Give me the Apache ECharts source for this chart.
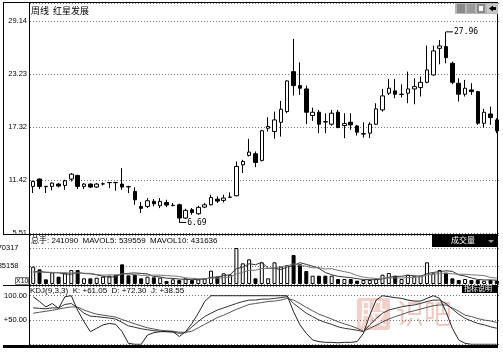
<!DOCTYPE html>
<html>
<head>
<meta charset="UTF-8">
<title>红星发展 周线</title>
<script src="https://cdn.jsdelivr.net/npm/echarts@6/dist/echarts.min.js"></script>
<style>
    html, body { margin: 0; padding: 0; background: #fff; }
    #chart { width: 503px; height: 353px; }
</style>
</head>
<body>
<div id="chart"></div>
<script>
    // 周线行情（按时间顺序）
    const opens = [10.71, 11.53, 10.72, 10.71, 10.97, 10.82, 11.53, 11.94, 10.71, 10.97,
        10.64, 10.98, 11.13, 11.16, 10.97, 10.68, 10.15, 8.48, 8.48, 9.04,
        8.55, 8.92, 8.58, 8.66, 7.18, 8.11, 7.66, 8.40, 8.66, 9.29,
        9.15, 9.50, 9.67, 13.12, 14.17, 14.35, 13.61, 17.20, 16.83, 17.87,
        19.06, 23.52, 21.96, 21.59, 18.62, 18.99, 17.93, 17.65, 18.99, 17.50,
        17.87, 17.46, 16.55, 16.65, 17.65, 19.25, 21.11, 21.37, 20.98, 21.11,
        21.59, 21.74, 22.33, 23.15, 26.12, 26.31, 24.45, 22.22, 21.00, 21.48,
        21.29, 17.76, 18.80, 18.13];
    const closes = [11.27, 10.71, 10.68, 11.08, 10.75, 11.34, 12.08, 10.71, 10.97, 10.64,
        10.97, 11.00, 11.15, 11.13, 10.64, 10.66, 9.22, 8.26, 9.11, 8.77,
        9.04, 8.63, 8.60, 7.18, 8.03, 7.81, 8.37, 8.66, 9.48, 9.07,
        9.41, 9.52, 12.94, 13.50, 14.54, 13.38, 16.92, 17.40, 18.13, 19.32,
        22.48, 21.96, 21.67, 18.99, 18.99, 17.65, 17.90, 18.88, 17.28, 17.72,
        17.58, 16.76, 16.60, 17.65, 19.36, 20.81, 21.67, 21.00, 21.00, 21.59,
        21.85, 22.33, 23.71, 25.83, 26.39, 25.08, 22.33, 21.00, 21.67, 21.29,
        17.76, 18.99, 18.39, 16.91];
    const lows = [9.97, 10.41, 9.97, 10.26, 10.60, 10.34, 11.27, 10.41, 10.41, 10.52,
        10.56, 10.82, 10.52, 10.23, 10.34, 9.97, 8.66, 7.74, 8.29, 8.48,
        8.29, 8.40, 8.48, 6.69, 7.07, 7.55, 7.55, 8.29, 8.59, 8.85,
        8.92, 9.41, 9.59, 12.20, 14.05, 12.86, 13.50, 16.84, 16.02, 16.27,
        18.88, 20.85, 20.92, 17.65, 18.02, 16.65, 16.65, 17.50, 17.20, 16.09,
        17.02, 16.39, 16.16, 16.09, 17.58, 19.06, 20.92, 20.55, 20.63, 19.99,
        19.88, 20.74, 22.22, 23.08, 24.34, 24.45, 22.11, 20.18, 20.74, 20.92,
        17.58, 17.28, 17.58, 16.65];
    const highs = [11.35, 11.60, 10.76, 11.16, 11.08, 11.45, 12.20, 12.01, 11.08, 11.05,
        11.08, 11.16, 11.17, 11.18, 12.75, 10.79, 10.60, 8.96, 9.41, 9.30,
        9.41, 9.22, 8.85, 8.78, 8.22, 8.29, 8.55, 8.85, 9.78, 9.59,
        9.78, 10.04, 13.50, 13.68, 16.02, 14.61, 17.03, 18.44, 19.06, 20.25,
        22.56, 27.17, 24.56, 21.96, 19.50, 19.25, 18.87, 19.25, 19.25, 18.88,
        18.88, 17.58, 17.87, 17.87, 19.99, 21.59, 22.71, 22.71, 22.11, 23.52,
        22.78, 22.97, 26.42, 26.42, 27.05, 27.96, 24.64, 22.78, 22.60, 22.22,
        21.37, 19.36, 19.62, 18.32];

    // 成交量（X10）及均量线
    const volumes = [82000, 69400, 22100, 55200, 34700, 53600, 66200, 66200, 26800, 26800,
        29900, 34700, 39400, 44200, 93000, 41000, 44200, 26800, 34700, 31500,
        29900, 14200, 22100, 18900, 26800, 18900, 22100, 26800, 63100, 34700,
        50500, 44200, 170317, 97800, 116700, 26800, 102500, 26800, 102500, 82000,
        89900, 137200, 93000, 61500, 39400, 39400, 39400, 39400, 23700, 23700,
        23700, 15800, 18900, 18900, 23700, 44200, 52000, 39400, 23700, 44200,
        36300, 39400, 102500, 50500, 66200, 53600, 26800, 18900, 23700, 18900,
        18900, 15800, 18900, 15800];
    const mavol5 = [57000, 60000, 55000, 54000, 52680, 47000, 46360, 55180, 49500, 47920,
        43180, 36880, 31520, 35000, 48240, 50460, 52360, 49840, 47940, 35640,
        33420, 27420, 26480, 23320, 22380, 20180, 21760, 22700, 31540, 33120,
        39440, 43860, 72563, 79503, 95903, 91163, 102823, 74120, 75060, 68120,
        80740, 87680, 100920, 92720, 84200, 74100, 54540, 43820, 36260, 33120,
        29980, 25260, 21160, 20200, 20200, 24300, 31540, 35640, 36600, 40700,
        39120, 36600, 49220, 54580, 58980, 62440, 59920, 43200, 37840, 28380,
        21440, 19240, 19240, 17660];
    const mavol10 = [56000, 56500, 56000, 55000, 54000, 53000, 52500, 52000, 51000, 50300,
        45090, 41620, 43350, 42250, 48080, 46820, 44620, 40680, 41470, 41940,
        41940, 39890, 38160, 35630, 29010, 26800, 24590, 24590, 27430, 27750,
        29810, 32810, 47632, 55522, 64512, 65302, 73342, 73342, 77282, 82012,
        85952, 95252, 87520, 83890, 76160, 77420, 71110, 72370, 64490, 58660,
        52040, 39900, 32490, 28230, 26660, 27140, 28400, 28400, 28400, 30450,
        31710, 34070, 42430, 45590, 49840, 50780, 48260, 46210, 46210, 43680,
        41940, 39580, 31220, 27750];

    // KDJ(9,3,3)
    const kLine = [75, 74, 73, 75, 75, 82, 84, 75, 64, 58,
        57, 55.5, 54, 52, 45, 38, 35, 32, 30, 28,
        27, 26, 25, 22.6, 24, 36, 47, 57, 64, 70.5,
        75, 79.5, 84, 88, 91, 91, 93, 93, 94.5, 96,
        98, 84, 74, 64, 57, 50, 45, 41, 36, 33,
        31, 29, 26, 40, 53, 64, 70.5, 74, 77, 79.5,
        81, 84, 88, 91, 91, 84, 72.6, 62, 53.4, 48,
        43, 40, 36, 33];
    const dLine = [64, 66, 68, 70, 72.6, 75, 77, 76.7, 70.5, 66,
        62, 60, 58, 56, 51, 46.6, 42, 38, 34, 31.5,
        29, 28, 27, 25, 24.6, 27, 34, 41, 48, 55,
        60, 66, 72, 77, 82, 84, 86, 88, 89, 91,
        94.5, 91, 84, 76, 69, 62, 57, 52, 46.6, 42,
        38, 33, 27, 33, 39, 46, 52, 57, 61, 66,
        69, 72.6, 76, 79.5, 81, 81, 75, 68, 60, 57,
        53, 50, 48, 45];
    const jLine = [98, 88, 77, 84, 74, 98, 100, 70, 46.6, 26,
        33, 40, 43, 41, 26, 2, 0, 0, 19, 24,
        26, 26, 26, 16, 26, 43, 64, 88, 100, 100,
        100, 100, 100, 100, 100, 100, 100, 100, 100, 100,
        100, 67, 40, 22.6, 9, 5.5, 4, 4, 3, 4,
        4, 5.5, 22.6, 60, 91, 100, 98, 96, 94.5, 91,
        89, 89, 94.5, 100, 94.5, 67, 33, 9, 2, 0,
        0, 0, 0, 0];

    const weeks = opens.map((_, i) => 'W' + (i + 1));

    // 刻度文字
    const priceTicks = ['5.51', '11.42', '17.32', '23.23', '29.14'];
    const volTicks = ['85158', '170317'];
    const kdjTicks = ['+50.00', '100.00'];

    function pickLabel(ticks, tol) {
        return function (v) {
            const hit = ticks.find(t => Math.abs(parseFloat(t) - v) < tol);
            return hit || '';
        };
    }

    const candleData = weeks.map((w, i) => [opens[i], closes[i], lows[i], highs[i]]);
    const volData = volumes.map((v, i) => ({
        value: v,
        itemStyle: closes[i] >= opens[i]
            ? {color: '#fff', borderColor: '#000', borderWidth: 1}
            : {color: '#000', borderColor: '#000', borderWidth: 1}
    }));

    const hiIdx = highs.indexOf(Math.max(...highs));
    const loIdx = lows.indexOf(Math.min(...lows));

    const labelFont = {fontSize: 7.5, color: '#000', fontFamily: 'Liberation Sans, Arial, sans-serif'};
    const dotted = {show: true, lineStyle: {color: '#777', width: 1, type: [1, 2]}};
    const lineSeries = (name, data, idx, color) => ({
        name: name, type: 'line', data: data, xAxisIndex: idx, yAxisIndex: idx,
        symbol: 'none', silent: true, lineStyle: {width: 1, color: color}
    });

    const chart = echarts.init(document.getElementById('chart'));
    chart.setOption({
        animation: false,
        backgroundColor: '#fff',
        grid: [
            {left: 30, top: 3, width: 470, height: 230, outerBoundsMode: 'none'},
            {left: 30, top: 235, width: 470, height: 49, outerBoundsMode: 'none'},
            {left: 30, top: 286, width: 470, height: 58.3, outerBoundsMode: 'none'}
        ],
        xAxis: [0, 1, 2].map(i => ({
            type: 'category', gridIndex: i, data: weeks, boundaryGap: true, show: false
        })),
        yAxis: [
            {
                gridIndex: 0, min: 5.51, max: 31.18, interval: 5.9075,
                axisLine: {show: false}, axisTick: {show: false}, splitLine: dotted,
                axisLabel: Object.assign({margin: 3, formatter: pickLabel(priceTicks, 0.02)}, labelFont)
            },
            {
                gridIndex: 1, min: 0, max: 231820, interval: 85158.5,
                axisLine: {show: false}, axisTick: {show: false}, splitLine: dotted,
                axisLabel: Object.assign({margin: 11.5, formatter: pickLabel(volTicks, 2)}, labelFont)
            },
            {
                gridIndex: 2, min: 0, max: 120, interval: 50,
                axisLine: {show: false}, axisTick: {show: false}, splitLine: dotted,
                axisLabel: Object.assign({margin: 3, formatter: pickLabel(kdjTicks, 0.5)}, labelFont)
            }
        ],
        series: [
            {
                name: '周线', type: 'candlestick', data: candleData, xAxisIndex: 0, yAxisIndex: 0,
                barWidth: 4, silent: true,
                itemStyle: {color: '#fff', color0: '#000', borderColor: '#000', borderColor0: '#000', borderWidth: 1},
                markPoint: {
                    symbol: 'rect', symbolSize: [7, 1], symbolOffset: [3.5, 0],
                    itemStyle: {color: '#000'},
                    label: {
                        show: true, position: 'right', distance: 1, color: '#000',
                        fontSize: 8, fontFamily: 'DejaVu Sans Mono, monospace',
                        formatter: p => p.value.toFixed(2)
                    },
                    data: [
                        {coord: [weeks[hiIdx], highs[hiIdx]], value: highs[hiIdx]},
                        {coord: [weeks[loIdx], lows[loIdx]], value: lows[loIdx]}
                    ]
                }
            },
            {
                name: '成交量', type: 'bar', data: volData, xAxisIndex: 1, yAxisIndex: 1,
                barWidth: 4, silent: true
            },
            lineSeries('MAVOL5', mavol5, 1, '#333'),
            lineSeries('MAVOL10', mavol10, 1, '#777'),
            lineSeries('K', kLine, 2, '#333'),
            lineSeries('D', dLine, 2, '#555'),
            lineSeries('J', jLine, 2, '#222')
        ],
        graphic: [
            // 水印
            {type: 'rect', z: 1, shape: {x: 357, y: 298, width: 33, height: 32, r: 3},
                style: {fill: 'rgba(214,110,90,0.32)'}},
            {type: 'text', z: 2, left: 359, top: 299,
                style: {text: '股', fontSize: 28, fontFamily: 'Noto Sans CJK SC', fill: 'rgba(255,255,255,0.85)'}},
            {type: 'text', z: 2, left: 396, top: 299,
                style: {text: '识吧', fontSize: 28, fontFamily: 'Noto Sans CJK SC', fill: 'rgba(214,110,90,0.38)'}},

            // 边框与分隔线
            {type: 'line', z: 100, shape: {x1: 3, y1: 2.5, x2: 498, y2: 2.5}, style: {stroke: '#000', lineWidth: 1}},
            {type: 'line', z: 100, shape: {x1: 3.5, y1: 2.5, x2: 3.5, y2: 234.5}, style: {stroke: '#000', lineWidth: 1}},
            {type: 'line', z: 100, shape: {x1: 497.5, y1: 2.5, x2: 497.5, y2: 346}, style: {stroke: '#000', lineWidth: 1}},
            {type: 'line', z: 100, shape: {x1: 29.5, y1: 3, x2: 29.5, y2: 346}, style: {stroke: '#000', lineWidth: 1}},
            {type: 'line', z: 100, shape: {x1: 3, y1: 234.5, x2: 498, y2: 234.5}, style: {stroke: '#000', lineWidth: 1}},
            {type: 'line', z: 100, shape: {x1: 3, y1: 285.5, x2: 498, y2: 285.5}, style: {stroke: '#000', lineWidth: 1}},
            {type: 'rect', z: 100, shape: {x: 3, y: 345, width: 495, height: 3}, style: {fill: '#000'}},

            // 标题
            {type: 'text', z: 101, left: 31, top: 6,
                style: {text: '周线  红星发展', fontSize: 9, fontFamily: 'Noto Sans CJK SC', fill: '#000'}},
            {type: 'text', z: 101, left: 31, top: 237,
                style: {text: '总手: 241090  MAVOL5: 539559  MAVOL10: 431636', fontSize: 8,
                    fontFamily: 'Liberation Sans, Noto Sans CJK SC', fill: '#000'}},
            {type: 'text', z: 101, left: 30, top: 287,
                style: {text: 'KDJ(9,3,3)  K: +61.05  D: +72.30  J: +38.55', fontSize: 8,
                    fontFamily: 'Liberation Sans, sans-serif', fill: '#000'}},

            // 右上角按钮
            {type: 'rect', z: 101, shape: {x: 455, y: 3, width: 43, height: 11}, style: {fill: '#b8b8b8'}},
            {type: 'rect', z: 102, shape: {x: 457, y: 4, width: 8, height: 9}, style: {fill: '#8a8a8a'}},
            {type: 'rect', z: 102, shape: {x: 467, y: 4, width: 8, height: 9}, style: {fill: '#9a9a9a'}},
            {type: 'rect', z: 102, shape: {x: 477, y: 4, width: 8, height: 9}, style: {fill: '#8a8a8a'}},
            {type: 'rect', z: 103, shape: {x: 479, y: 6, width: 4, height: 5}, style: {fill: '#fff'}},
            {type: 'rect', z: 102, shape: {x: 487, y: 4, width: 10, height: 9}, style: {fill: '#c8c8c8'}},
            {type: 'polygon', z: 103, shape: {points: [[489, 8.5], [493, 5.5], [493, 11.5]]}, style: {fill: '#000'}},
            {type: 'rect', z: 103, shape: {x: 492, y: 7, width: 4, height: 3}, style: {fill: '#000'}},

            // 成交量 按钮
            {type: 'rect', z: 101, shape: {x: 432, y: 235, width: 66, height: 12}, style: {fill: '#000'}},
            {type: 'text', z: 102, left: 451, top: 236,
                style: {text: '成交量', fontSize: 8, fontFamily: 'Noto Sans CJK SC', fill: '#fff'}},
            {type: 'polygon', z: 102, shape: {points: [[488, 240], [494, 240], [491, 243]]}, style: {fill: '#999'}},

            // X10 标记
            {type: 'rect', z: 101, shape: {x: 15.5, y: 277.5, width: 13, height: 7},
                style: {fill: '#fff', stroke: '#777', lineWidth: 1}},
            {type: 'text', z: 102, left: 16, top: 277.5,
                style: {text: 'X10', fontSize: 7, fontFamily: 'Liberation Sans, sans-serif', fill: '#000'}},

            // 指标说明 按钮
            {type: 'rect', z: 101, shape: {x: 462, y: 285, width: 36, height: 8}, style: {fill: '#000'}},
            {type: 'text', z: 102, left: 464, top: 285,
                style: {text: '指标说明', fontSize: 7, fontFamily: 'Noto Sans CJK SC', fill: '#fff'}}
        ]
    });
</script>
</body>
</html>
